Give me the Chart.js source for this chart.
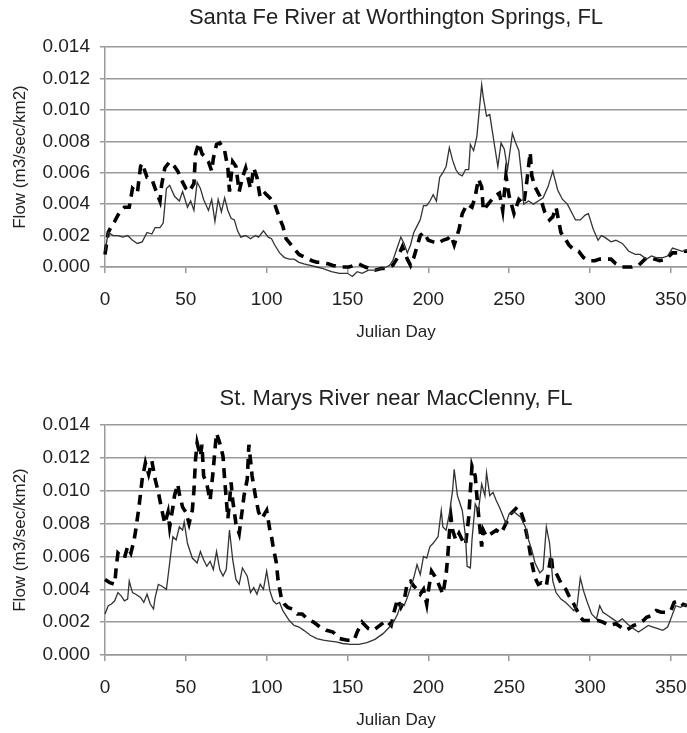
<!DOCTYPE html>
<html>
<head>
<meta charset="utf-8">
<title>Flow by Julian Day</title>
<script src="https://cdn.jsdelivr.net/npm/chart.js@4.4.1/dist/chart.umd.min.js"></script>
<style>
  body { margin: 0; background: #fff; }
  #wrap { position: relative; width: 687px; height: 733px; overflow: hidden; }
  canvas { position: absolute; left: 0; }
</style>
</head>
<body>
<div id="wrap">
  <canvas id="santaFeChart" width="687" height="345" style="top:0px"></canvas>
  <canvas id="stMarysChart" width="687" height="368" style="top:365px"></canvas>
</div>
<script>
// ---- data ----
const xTicks = [0, 50, 100, 150, 200, 250, 300, 350];
const yTicks = [0, 0.002, 0.004, 0.006, 0.008, 0.010, 0.012, 0.014];

// Santa Fe River at Worthington Springs - thin solid line
const santaFeSolidDays = [0,2,5,8,11,14,17,20,23,26,29,31,34,36,38,40,43,46,48,51,53,55,57,59,61,64,66,68,70,72,74,76,78,80,82,84,87,90,93,95,98,101,103,105,108,111,114,117,120,123,127,131,135,140,145,150,153,156,159,163,167,171,174,176,178,180,183,185,187,189,191,193,195,197,199,201,203,205,207,209,211,213,215,217,219,221,223,225,226,228,230,233,234,236,238,241,243,245,247,249,252,254,256,258,259,262,265,268,271,274,277,280,283,286,289,291,294,297,299,302,305,307,309,313,316,320,324,328,331,335,338,341,345,348,351,354,357,360];
const santaFeSolidFlow = [0.0010,0.0022,0.0020,0.0020,0.0019,0.0020,0.0017,0.0015,0.0016,0.0022,0.0021,0.0025,0.0025,0.0028,0.0050,0.0052,0.0045,0.0042,0.0048,0.0038,0.0042,0.0036,0.0054,0.0050,0.0043,0.0036,0.0043,0.0029,0.0043,0.0035,0.0044,0.0036,0.0031,0.0030,0.0023,0.0019,0.0020,0.0018,0.0020,0.0019,0.0023,0.0019,0.0018,0.0014,0.0009,0.0006,0.0005,0.0005,0.0003,0.0002,0.0001,0.0000,-0.0001,-0.0003,-0.0004,-0.0004,-0.0006,-0.0003,-0.0004,-0.0002,-0.0002,-0.0001,0.0000,0.0001,0.0004,0.0010,0.0019,0.0015,0.0009,0.0014,0.0022,0.0026,0.0030,0.0039,0.0039,0.0042,0.0046,0.0042,0.0057,0.0060,0.0064,0.0076,0.0068,0.0062,0.0059,0.0058,0.0062,0.0062,0.0078,0.0074,0.0083,0.0116,0.0108,0.0096,0.0097,0.0077,0.0064,0.0079,0.0075,0.0062,0.0085,0.0079,0.0074,0.0055,0.0040,0.0042,0.0040,0.0042,0.0044,0.0051,0.0061,0.0049,0.0043,0.0040,0.0034,0.0030,0.0030,0.0033,0.0034,0.0024,0.0017,0.0020,0.0019,0.0016,0.0017,0.0015,0.0010,0.0008,0.0008,0.0005,0.0007,0.0006,0.0006,0.0007,0.0012,0.0011,0.0010,0.0011];

// Santa Fe River - thick dashed line
const santaFeDashedDays = [0,2,4,6,8,10,12,15,17,20,22,23,26,29,31,34,35,37,40,43,45,48,50,52,55,56,58,60,62,64,66,67,69,71,74,76,77,79,81,83,85,87,90,92,94,96,99,102,105,108,110,112,116,120,124,128,131,134,138,141,145,148,151,154,157,161,164,167,171,174,178,181,184,187,189,191,193,195,197,200,203,206,209,212,214,216,219,221,224,227,229,231,233,234,237,241,244,246,248,250,253,256,259,261,263,264,266,269,272,275,277,279,282,284,287,290,293,296,299,303,306,309,313,316,320,323,326,330,334,337,340,343,347,351,355,358,360];
const santaFeDashedFlow = [0.0008,0.0022,0.0026,0.0029,0.0033,0.0036,0.0038,0.0038,0.0050,0.0047,0.0064,0.0066,0.0057,0.0056,0.0050,0.0042,0.0052,0.0063,0.0067,0.0064,0.0061,0.0054,0.0050,0.0048,0.0053,0.0072,0.0079,0.0072,0.0070,0.0067,0.0061,0.0069,0.0078,0.0079,0.0074,0.0063,0.0048,0.0067,0.0064,0.0048,0.0057,0.0063,0.0050,0.0063,0.0057,0.0044,0.0047,0.0044,0.0040,0.0031,0.0026,0.0018,0.0013,0.0008,0.0006,0.0004,0.0003,0.0003,0.0002,0.0001,0.0000,0.0000,0.0000,0.0001,0.0002,0.0000,-0.0001,-0.0002,-0.0001,-0.0001,0.0001,0.0006,0.0013,0.0005,0.0001,0.0006,0.0013,0.0020,0.0022,0.0017,0.0016,0.0015,0.0017,0.0018,0.0020,0.0014,0.0024,0.0034,0.0040,0.0038,0.0045,0.0056,0.0051,0.0036,0.0040,0.0045,0.0047,0.0036,0.0058,0.0045,0.0034,0.0043,0.0040,0.0055,0.0073,0.0058,0.0051,0.0045,0.0035,0.0030,0.0032,0.0038,0.0022,0.0019,0.0014,0.0011,0.0010,0.0006,0.0004,0.0004,0.0005,0.0005,0.0005,0.0002,0.0000,0.0000,0.0000,0.0001,0.0005,0.0006,0.0005,0.0004,0.0005,0.0009,0.0009,0.0010,0.0010];

// St. Marys River near MacClenny - thin solid line
const stMarysSolidDays = [0,2,4,6,8,10,12,14,15,17,19,22,24,26,28,30,31,33,35,38,40,42,44,46,48,49,51,54,57,59,61,63,65,67,69,71,73,75,77,79,81,83,85,88,90,92,94,96,98,100,102,104,106,108,110,112,114,117,120,123,127,131,135,139,143,147,152,157,162,167,172,176,179,181,183,185,187,189,191,193,195,197,199,201,203,206,208,209,211,213,215,216,218,221,223,224,226,227,229,231,233,235,236,238,240,242,244,246,248,250,253,257,260,262,264,266,269,271,273,275,277,279,282,285,288,290,292,294,296,298,301,304,306,308,311,314,317,320,323,327,330,333,336,339,342,345,348,350,353,356,360];
const stMarysSolidFlow = [0.0025,0.0030,0.0031,0.0033,0.0038,0.0036,0.0033,0.0034,0.0045,0.0038,0.0037,0.0035,0.0032,0.0037,0.0031,0.0028,0.0035,0.0043,0.0042,0.0040,0.0056,0.0072,0.0070,0.0078,0.0076,0.0081,0.0068,0.0059,0.0056,0.0063,0.0058,0.0054,0.0057,0.0052,0.0063,0.0052,0.0048,0.0052,0.0076,0.0058,0.0046,0.0043,0.0053,0.0048,0.0038,0.0041,0.0037,0.0043,0.0040,0.0051,0.0039,0.0033,0.0031,0.0032,0.0027,0.0024,0.0021,0.0018,0.0017,0.0015,0.0012,0.0010,0.0009,0.00085,0.0008,0.0007,0.00065,0.00065,0.00075,0.00095,0.0013,0.0017,0.0021,0.0025,0.0031,0.0030,0.0035,0.0041,0.0047,0.0055,0.0049,0.0060,0.0059,0.0066,0.0068,0.0072,0.0088,0.0078,0.0076,0.0086,0.0100,0.0113,0.0097,0.0088,0.0072,0.0054,0.0053,0.0070,0.0092,0.0088,0.0104,0.0097,0.0111,0.0097,0.0099,0.0094,0.0090,0.0085,0.0080,0.0086,0.0087,0.0084,0.0078,0.0070,0.0064,0.0056,0.0050,0.0052,0.0078,0.0068,0.0045,0.0038,0.0034,0.0032,0.0029,0.0027,0.0030,0.0047,0.0039,0.0033,0.0025,0.0022,0.0030,0.0026,0.0024,0.0022,0.0020,0.0022,0.0019,0.0016,0.0014,0.0016,0.0018,0.0017,0.0016,0.0015,0.0017,0.0022,0.0030,0.0029,0.0031];

// St. Marys River - thick dashed line
const stMarysDashedDays = [0,3,6,7,8,10,12,14,16,18,19,21,23,25,27,29,31,33,35,37,39,40,42,43,45,46,48,50,52,54,55,56,57,59,60,61,63,64,65,67,68,69,71,73,74,76,77,78,79,81,83,85,86,88,89,91,93,95,97,100,102,103,104,106,107,109,111,113,116,119,122,125,129,133,137,141,145,150,154,156,159,161,163,166,170,174,177,179,181,183,185,187,189,191,193,195,197,199,200,202,204,206,209,211,212,213,214,215,217,219,221,223,225,226,227,229,230,231,232,233,234,236,239,242,245,248,251,253,255,257,259,262,264,266,268,270,273,275,276,277,279,282,285,287,290,292,294,296,299,302,305,308,312,316,319,322,324,327,330,333,335,338,341,344,347,350,352,355,357,360];
const stMarysDashedFlow = [0.0046,0.0044,0.0043,0.0054,0.0062,0.0060,0.0059,0.0066,0.0062,0.0070,0.0076,0.0090,0.0107,0.0117,0.0110,0.0118,0.0107,0.0099,0.0089,0.0080,0.0087,0.0078,0.0090,0.0097,0.0104,0.0098,0.0090,0.0087,0.0080,0.0088,0.0100,0.0119,0.0129,0.0121,0.0128,0.0109,0.0104,0.0099,0.0094,0.0113,0.0125,0.0135,0.0129,0.0121,0.0107,0.0083,0.0093,0.0105,0.0094,0.0080,0.0074,0.0089,0.0097,0.0107,0.0128,0.0109,0.0097,0.0087,0.0083,0.0088,0.0076,0.0072,0.0066,0.0056,0.0046,0.0035,0.0031,0.0029,0.0028,0.0025,0.0025,0.0022,0.0020,0.0017,0.0015,0.0014,0.0010,0.0009,0.0009,0.0014,0.0020,0.0018,0.0016,0.0015,0.0018,0.0021,0.0018,0.0027,0.0034,0.0029,0.0033,0.0044,0.0045,0.0042,0.0040,0.0037,0.0040,0.0031,0.0039,0.0051,0.0048,0.0044,0.0037,0.0049,0.0060,0.0074,0.0084,0.0076,0.0070,0.0074,0.0070,0.0067,0.0084,0.0100,0.0115,0.0109,0.0097,0.0086,0.0076,0.0066,0.0076,0.0072,0.0074,0.0076,0.0074,0.0080,0.0086,0.0088,0.0090,0.0088,0.0082,0.0068,0.0056,0.0047,0.0043,0.0044,0.0042,0.0055,0.0061,0.0051,0.0050,0.0044,0.0040,0.0036,0.0031,0.0027,0.0023,0.0021,0.0021,0.0021,0.0021,0.0020,0.0018,0.0019,0.0017,0.0015,0.0016,0.0018,0.0019,0.0021,0.0023,0.0024,0.0027,0.0026,0.0026,0.0027,0.0032,0.0033,0.0031,0.0030];

// ---- chart setup ----
const FONT = 'Liberation Sans, Arial, Helvetica, sans-serif';
const TEXT = '#222';
const GRID = '#9a9a9a';

function pairUp(days, flow) {
    return days.map((d, i) => ({ x: d, y: flow[i] }));
}

// title centred over the plot area (not the whole canvas)
const plotTitle = {
    id: 'plotTitle',
    afterDraw(chart, args, opts) {
        const { ctx, chartArea } = chart;
        ctx.save();
        ctx.font = '22px ' + FONT;
        ctx.fillStyle = TEXT;
        ctx.textAlign = 'center';
        ctx.textBaseline = 'middle';
        ctx.fillText(opts.text, (chartArea.left + chartArea.right) / 2, opts.y);
        ctx.restore();
    }
};

function makeRiverChart(canvasId, titleText, titleY, solidDays, solidFlow, dashDays, dashFlow, topPad) {
    const ctx = document.getElementById(canvasId).getContext('2d');
    return new Chart(ctx, {
        type: 'line',
        data: {
            datasets: [{
                label: 'solid',
                data: pairUp(solidDays, solidFlow),
                borderColor: '#333',
                borderWidth: 1.3,
                pointRadius: 0,
                tension: 0,
                clip: false
            }, {
                label: 'dashed',
                data: pairUp(dashDays, dashFlow),
                borderColor: '#000',
                borderWidth: 3.6,
                borderDash: [10, 7],
                pointRadius: 0,
                tension: 0,
                clip: false
            }]
        },
        plugins: [plotTitle],
        options: {
            responsive: false,
            animation: false,
            devicePixelRatio: 1,
            layout: { padding: { top: topPad, left: 0, right: 0, bottom: 0 } },
            plugins: {
                legend: { display: false },
                tooltip: { enabled: false },
                title: { display: false },
                plotTitle: { text: titleText, y: titleY }
            },
            scales: {
                x: {
                    type: 'linear',
                    min: 0,
                    max: 360,
                    afterFit: s => { s.height = 78; s.paddingLeft = 0; s.paddingRight = 0; },
                    afterBuildTicks: s => { s.ticks = xTicks.map(v => ({ value: v })); },
                    ticks: { padding: 15, color: TEXT, font: { family: FONT, size: 19 } },
                    grid: { drawOnChartArea: false, drawTicks: true, tickLength: 6, color: GRID, lineWidth: 1.5 },
                    border: { display: true, color: GRID, width: 1.5 },
                    title: {
                        display: true,
                        text: 'Julian Day',
                        color: TEXT,
                        font: { family: FONT, size: 17 },
                        padding: { top: 0, bottom: 2 }
                    }
                },
                y: {
                    min: 0,
                    max: 0.014,
                    afterFit: s => { s.width = 105; },
                    afterBuildTicks: s => { s.ticks = yTicks.map(v => ({ value: v })); },
                    ticks: {
                        padding: 10,
                        color: TEXT,
                        font: { family: FONT, size: 19 },
                        callback: v => v.toFixed(3)
                    },
                    grid: { color: GRID, lineWidth: 1.5, tickLength: 5 },
                    border: { display: true, color: GRID, width: 1.5 },
                    title: {
                        display: true,
                        text: 'Flow (m3/sec/km2)',
                        color: TEXT,
                        font: { family: FONT, size: 17 },
                        padding: { top: 10, bottom: 0 }
                    }
                }
            }
        }
    });
}

makeRiverChart('santaFeChart', 'Santa Fe River at Worthington Springs, FL', 18,
    santaFeSolidDays, santaFeSolidFlow, santaFeDashedDays, santaFeDashedFlow, 47);
makeRiverChart('stMarysChart', 'St. Marys River near MacClenny, FL', 34,
    stMarysSolidDays, stMarysSolidFlow, stMarysDashedDays, stMarysDashedFlow, 60);
</script>
</body>
</html>
